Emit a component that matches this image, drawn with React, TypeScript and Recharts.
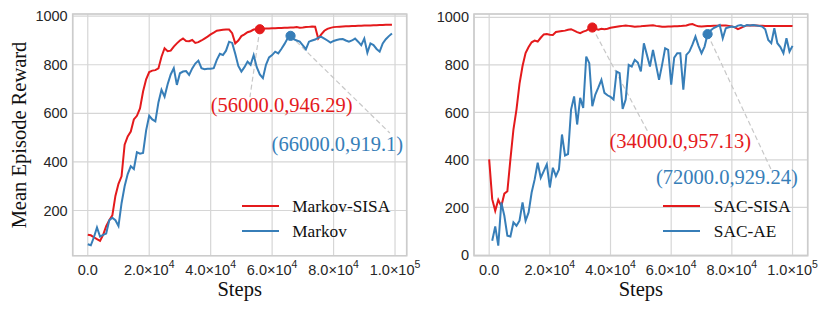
import React from 'react';
import {
  LineChart, Line, XAxis, YAxis, CartesianGrid, ReferenceLine, ReferenceDot,
  ReferenceArea, Legend, Label,
} from 'recharts';

const RED = '#e41a1c';
const BLUE = '#377eb8';
const SERIF = '"Liberation Serif", "Times New Roman", serif';
const SANS = '"Liberation Sans", Arial, sans-serif';
const INK = '#262626';

// x ticks (steps)
const xTicks = [0, 20000, 40000, 60000, 80000, 100000];
const xTickMantissa = ['0.0', '2.0', '4.0', '6.0', '8.0', '1.0'];
const xTickExponent = ['', '4', '4', '4', '4', '5'];

const leftYTicks = [200, 400, 600, 800, 1000];
const rightYTicks = [0, 200, 400, 600, 800, 1000];

// Left panel: Markov-SISA vs Markov, one value every 1000 steps (0 .. 99000)
const markovSisa = [
  100, 98, 90, 82, 75, 100, 136, 160, 180, 260,
  310, 341, 471, 505, 525, 575, 590, 620, 690, 740,
  770, 776, 778, 785, 833, 868, 856, 858, 875, 888,
  900, 908, 898, 897, 902, 890, 893, 900, 908, 916,
  925, 932, 940, 942, 944, 945, 945, 930, 888, 900,
  918, 925, 934, 938, 945, 947, 946.29, 948, 949, 949,
  950, 950, 951, 951, 952, 952, 953, 953, 955, 952,
  953, 955, 956, 958, 957, 908, 925, 940, 948, 952,
  955, 956, 957, 958, 959, 959, 960, 960, 961, 961,
  962, 962, 962, 963, 963, 964, 964, 965, 965, 965,
];
const markov = [
  61, 57, 90, 130, 93, 100, 105, 160, 170, 160,
  136, 230, 300, 350, 382, 371, 440, 434, 437, 530,
  590, 575, 567, 645, 697, 669, 720, 760, 786, 717,
  765, 772, 774, 758, 785, 805, 817, 786, 782, 784,
  784, 786, 820, 845, 840, 858, 895, 890, 845, 795,
  772, 790, 813, 800, 840, 790, 760, 745, 800, 830,
  840, 854, 847, 865, 885, 908, 919.1, 905, 900, 895,
  880, 864, 895, 900, 904, 912, 915, 908, 900, 891,
  898, 902, 905, 906, 900, 895, 900, 908, 895, 881,
  908, 850, 888, 881, 865, 854, 888, 905, 918, 929,
];

// Right panel: SAC-SISA vs SAC-AE, one value every 1000 steps (0 .. 100000)
const sacSisa = [
  402, 235, 186, 232, 205, 258, 268, 402, 528, 612,
  720, 795, 850, 875, 895, 902, 898, 914, 928, 930,
  927, 926, 938, 940, 942, 944, 948, 950, 944, 938,
  933, 940, 944, 952, 957.13, 952, 948, 952, 950, 952,
  956, 958, 960, 962, 964, 966, 964, 962, 960, 961,
  962, 964, 965, 966, 967, 964, 962, 960, 960, 961,
  961, 962, 962, 963, 965, 966, 970, 972, 966, 962,
  961, 962, 963, 964, 965, 965, 966, 966, 966, 964,
  962, 958, 950, 956, 962, 966, 966, 967, 966, 965,
  965, 964, 964, 964, 963, 964, 964, 963, 963, 964,
  963,
];
const sacAe = [
  null, 60, 120, 39, 221, 165, 81, 78, 137, 123,
  144, 221, 144, 179, 263, 318, 388, 325, 353, 381,
  284, 367, 332, 360, 507, 419, 425, 612, 667, 549,
  661, 619, 835, 807, 626, 675, 705, 737, 682, 672,
  665, 654, 772, 765, 615, 654, 800, 793, 821, 810,
  772, 891, 842, 793, 863, 800, 737, 800, 870, 863,
  717, 830, 849, 849, 696, 842, 856, 885, 919, 880,
  849, 877, 929.24, 945, 955, 961, 968, 912, 954, 958,
  961, 958, 965, 968, 962, 968, 966, 968, 966, 964,
  961, 950, 905, 891, 954, 891, 875, 849, 912, 856,
  880,
];

const leftData = markovSisa.map((v, i) => ({ step: i * 1000, sisa: v, base: markov[i] }));
const rightData = sacSisa.map((v, i) => ({ step: i * 1000, sisa: v, base: sacAe[i] }));

// annotated maxima: point, text anchor and end of the dashed leader
const leftNotes = [
  { x: 56000, y: 946.29, color: RED, text: '(56000.0,946.29)', tx: 63090, ty: 607, lx: 52780, ly: 667 },
  { x: 66000, y: 919.1, color: BLUE, text: '(66000.0,919.1)', tx: 81240, ty: 446, lx: 98300, ly: 519 },
];
const rightNotes = [
  { x: 34000, y: 957.13, color: RED, text: '(34000.0,957.13)', tx: 63000, ty: 450, lx: 52530, ly: 513 },
  { x: 72000, y: 929.24, color: BLUE, text: '(72000.0,929.24)', tx: 78360, ty: 297, lx: 93000, ly: 358 },
];

const XTick = ({ x, y, payload }: any) => {
  const i = xTicks.indexOf(payload.value);
  return (
    <text x={x} y={y + 19.5} textAnchor="middle" fill={INK} fontFamily={SANS} fontSize={14.5}>
      {xTickMantissa[i]}
      {xTickExponent[i] ? (
        <>
          {'×10'}
          <tspan dy={-7} fontSize={10.5}>{xTickExponent[i]}</tspan>
        </>
      ) : null}
    </text>
  );
};

const LegendBox = ({ names }: { names: string[] }) => (
  <div style={{ fontFamily: SERIF, fontSize: 17.3, color: '#111' }}>
    {names.map((n, i) => (
      <div key={n} style={{ display: 'flex', alignItems: 'center', height: 25 }}>
        <span style={{ width: 37, height: 2, background: i === 0 ? RED : BLUE, marginRight: 13.5 }} />
        <span style={{ lineHeight: '25px', whiteSpace: 'nowrap' }}>{n}</span>
      </div>
    ))}
  </div>
);

type PanelProps = {
  data: any[];
  names: string[];
  width: number;
  xDomain: number[];
  yDomain: number[];
  yTicks: number[];
  yAxisWidth: number;
  marginRight: number;
  notes: typeof leftNotes;
  legendLeft: number;
  yLabel?: string;
};

const Panel = ({ data, names, width, xDomain, yDomain, yTicks, yAxisWidth, marginRight, notes, legendLeft, yLabel }: PanelProps) => (
  <LineChart width={width} height={312} data={data} margin={{ top: 14, right: marginRight, bottom: 0, left: 0 }}>
    <CartesianGrid stroke="#d6d6d6" strokeWidth={1.2} />
    <ReferenceArea
      x1={xDomain[0]} x2={xDomain[1]} y1={yDomain[0]} y2={yDomain[1]}
      fill="none" fillOpacity={0} stroke="#cccccc" strokeWidth={1.6} ifOverflow="visible"
    />
    <XAxis
      type="number" dataKey="step" domain={xDomain} ticks={xTicks} interval={0}
      tick={<XTick />} tickSize={0} tickMargin={0} axisLine={false} tickLine={false} height={56.3}
    >
      <Label
        content={({ viewBox }: any) => (
          <text x={viewBox.x + viewBox.width / 2} y={295.6} textAnchor="middle" fill="#111" fontFamily={SERIF} fontSize={20.5}>
            Steps
          </text>
        )}
      />
    </XAxis>
    <YAxis
      type="number" domain={yDomain} ticks={yTicks} interval={0} width={yAxisWidth}
      axisLine={false} tickLine={false} tickSize={0} tickMargin={5}
      tick={{ fill: INK, fontSize: 14.5, fontFamily: SANS }}
    >
      {yLabel ? (
        <Label
          content={() => (
            <text x={25.5} y={135} transform="rotate(-90, 25.5, 135)" textAnchor="middle" fill="#111" fontFamily={SERIF} fontSize={20.5}>
              {yLabel}
            </text>
          )}
        />
      ) : null}
    </YAxis>
    {notes.map((n) => (
      <ReferenceLine
        key={`l${n.text}`}
        segment={[{ x: n.x, y: n.y }, { x: n.lx, y: n.ly }]}
        stroke="#c8c8c8" strokeWidth={1.2} strokeDasharray="5 3" ifOverflow="visible"
      />
    ))}
    <Line type="linear" dataKey="sisa" name={names[0]} stroke={RED} strokeWidth={2} dot={false} isAnimationActive={false} />
    <Line type="linear" dataKey="base" name={names[1]} stroke={BLUE} strokeWidth={2} dot={false} isAnimationActive={false} />
    {notes.map((n) => (
      <ReferenceDot key={`d${n.text}`} x={n.x} y={n.y} r={4.6} fill={n.color} stroke={n.color} ifOverflow="visible" />
    ))}
    {notes.map((n) => (
      <ReferenceDot
        key={`t${n.text}`} x={n.tx} y={n.ty} r={0} ifOverflow="visible"
        shape={(p: any) => (
          <text x={p.cx} y={p.cy} textAnchor="middle" fill={n.color} fontFamily={SERIF} fontSize={20.5}>
            {n.text}
          </text>
        )}
      />
    ))}
    <Legend
      layout="vertical" align="center" verticalAlign="middle"
      wrapperStyle={{ left: legendLeft, top: 193.5, width: 170 }}
      content={() => <LegendBox names={names} />}
    />
  </LineChart>
);

export default function App() {
  return (
    <div style={{ position: 'absolute', left: 0, top: 0, width: 830, height: 312, background: '#fff' }}>
      <div style={{ position: 'absolute', left: 0, top: 0 }}>
        <Panel
          data={leftData} names={['Markov-SISA', 'Markov']} width={430}
          xDomain={[-4900, 103800]} yDomain={[14, 1009]} yTicks={leftYTicks}
          yAxisWidth={72.7} marginRight={23.3} notes={leftNotes} legendLeft={241.7}
          yLabel="Mean Episode Reward"
        />
      </div>
      <div style={{ position: 'absolute', left: 415, top: 0 }}>
        <Panel
          data={rightData} names={['SAC-SISA', 'SAC-AE']} width={415}
          xDomain={[-5000, 105000]} yDomain={[-3, 1014]} yTicks={rightYTicks}
          yAxisWidth={59} marginRight={22.3} notes={rightNotes} legendLeft={248.3}
        />
      </div>
    </div>
  );
}
